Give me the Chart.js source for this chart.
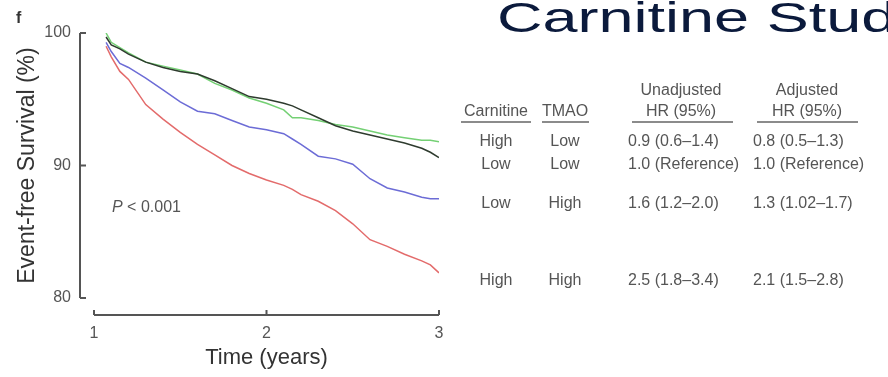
<!DOCTYPE html>
<html>
<head>
<meta charset="utf-8">
<script src="https://cdn.jsdelivr.net/npm/chart.js@4.4.1/dist/chart.umd.min.js"></script>
<style>
  html, body { margin: 0; padding: 0; background: #fff; }
  canvas { display: block; }
</style>
</head>
<body>
<canvas id="km" width="888" height="377"></canvas>
<script>
// follow-up time (years)
const times = [1.07, 1.1, 1.15, 1.2, 1.3, 1.4, 1.5, 1.6, 1.7, 1.8, 1.9, 2.0, 2.1, 2.15, 2.2, 2.3, 2.4, 2.5, 2.6, 2.7, 2.8, 2.9, 2.95, 3.0];
// event-free survival (%) per group
const highCarnLowTmao  = [100.0, 99.3, 98.9, 98.5, 97.8, 97.5, 97.2, 96.9, 96.2, 95.7, 95.1, 94.7, 94.2, 93.6, 93.6, 93.4, 93.1, 92.9, 92.6, 92.3, 92.1, 91.9, 91.9, 91.8];
const lowCarnLowTmao   = [99.7, 99.1, 98.8, 98.4, 97.8, 97.4, 97.1, 96.9, 96.4, 95.8, 95.2, 95.0, 94.7, 94.5, 94.2, 93.6, 93.0, 92.6, 92.3, 92.0, 91.7, 91.3, 91.0, 90.6];
const lowCarnHighTmao  = [99.3, 98.6, 97.7, 97.4, 96.6, 95.7, 94.8, 94.1, 93.9, 93.4, 92.9, 92.7, 92.4, 92.0, 91.6, 90.7, 90.5, 90.1, 89.0, 88.3, 88.0, 87.6, 87.5, 87.5];
const highCarnHighTmao = [99.0, 98.2, 97.1, 96.5, 94.6, 93.5, 92.5, 91.6, 90.8, 90.0, 89.4, 88.9, 88.5, 88.2, 87.8, 87.3, 86.6, 85.6, 84.4, 83.9, 83.3, 82.8, 82.5, 81.9];

const xTicks = [1, 2, 3];
const yTicks = [80, 90, 100];

// hazard ratio table
const carnitine = ['High', 'Low', 'Low', 'High'];
const tmao = ['Low', 'Low', 'High', 'High'];
const unadjusted = ['0.9 (0.6\u20131.4)', '1.0 (Reference)', '1.6 (1.2\u20132.0)', '2.5 (1.8\u20133.4)'];
const adjusted = ['0.8 (0.5\u20131.3)', '1.0 (Reference)', '1.3 (1.02\u20131.7)', '2.1 (1.5\u20132.8)'];

const FONT = "'Liberation Sans', Arial, sans-serif";

function pts(vals) {
    return times.map((t, i) => ({x: t, y: vals[i]}));
}

function line(vals, color) {
    return {
        data: pts(vals),
        borderColor: color,
        borderWidth: 1.5,
        pointRadius: 0,
        tension: 0,
        fill: false
    };
}

// axes drawn detached from the plot, like the original figure
const detachedAxes = {
    id: 'detachedAxes',
    afterDraw(chart) {
        const ctx = chart.ctx;
        const xs = chart.scales.x, ys = chart.scales.y;
        const ax = chart.chartArea.left - 14;
        const ay = chart.chartArea.bottom + 17;
        ctx.save();
        ctx.strokeStyle = '#555';
        ctx.lineWidth = 2;
        ctx.beginPath();
        ctx.moveTo(ax, ys.getPixelForValue(yTicks[yTicks.length - 1]));
        ctx.lineTo(ax, ys.getPixelForValue(yTicks[0]));
        yTicks.forEach(v => {
            const y = ys.getPixelForValue(v);
            ctx.moveTo(ax, y);
            ctx.lineTo(ax + 6, y);
        });
        ctx.moveTo(xs.getPixelForValue(xTicks[0]), ay);
        ctx.lineTo(xs.getPixelForValue(xTicks[xTicks.length - 1]), ay);
        xTicks.forEach(v => {
            const x = xs.getPixelForValue(v);
            ctx.moveTo(x, ay);
            ctx.lineTo(x, ay - 5);
        });
        ctx.stroke();
        ctx.restore();
    }
};

const annotations = {
    id: 'annotations',
    afterDraw(chart) {
        const ctx = chart.ctx;
        ctx.save();
        // slide title, stretched wide like the screenshot
        ctx.save();
        ctx.fillStyle = '#0b1a3c';
        ctx.font = '42px ' + FONT;
        ctx.textBaseline = 'alphabetic';
        ctx.textAlign = 'left';
        ctx.translate(497, 32);
        ctx.scale(1.5, 1);
        ctx.fillText('Carnitine Study', 0, 0);
        ctx.restore();

        // panel letter
        ctx.fillStyle = '#333';
        ctx.font = 'bold 16px ' + FONT;
        ctx.textBaseline = 'middle';
        ctx.textAlign = 'left';
        ctx.fillText('f', 16, 19);

        // p-value
        ctx.fillStyle = '#555';
        ctx.font = 'italic 16px ' + FONT;
        ctx.fillText('P', 112, 208);
        const pw = ctx.measureText('P').width;
        ctx.font = '16px ' + FONT;
        ctx.fillText(' < 0.001', 112 + pw, 208);

        // table headers
        ctx.fillStyle = '#555';
        ctx.font = '16px ' + FONT;
        ctx.textAlign = 'center';
        ctx.fillText('Carnitine', 496, 112);
        ctx.fillText('TMAO', 565, 112);
        ctx.fillText('Unadjusted', 681, 91);
        ctx.fillText('HR (95%)', 681, 112);
        ctx.fillText('Adjusted', 807, 91);
        ctx.fillText('HR (95%)', 807, 112);

        ctx.strokeStyle = '#666';
        ctx.lineWidth = 1.5;
        ctx.beginPath();
        [[461, 531], [542, 589], [632, 733], [757, 858]].forEach(([a, b]) => {
            ctx.moveTo(a, 122);
            ctx.lineTo(b, 122);
        });
        ctx.stroke();

        const rowY = [142, 165, 204, 281];
        rowY.forEach((y, i) => {
            ctx.textAlign = 'center';
            ctx.fillText(carnitine[i], 496, y);
            ctx.fillText(tmao[i], 565, y);
            ctx.textAlign = 'left';
            ctx.fillText(unadjusted[i], 628, y);
            ctx.fillText(adjusted[i], 753, y);
        });
        ctx.restore();
    }
};

const config = {
    type: 'line',
    data: {
        datasets: [
            line(lowCarnLowTmao, '#2e3b2e'),
            line(highCarnLowTmao, '#74d074'),
            line(lowCarnHighTmao, '#6c6cd6'),
            line(highCarnHighTmao, '#e36b6b')
        ]
    },
    options: {
        responsive: false,
        animation: false,
        devicePixelRatio: 1,
        layout: {
            padding: {left: 0, top: 33, right: 449, bottom: 0}
        },
        scales: {
            x: {
                type: 'linear',
                min: 1,
                max: 3,
                afterFit: s => { s.height = 79; },
                afterBuildTicks: s => { s.ticks = xTicks.map(v => ({value: v})); },
                grid: {display: false, drawTicks: false},
                border: {display: false},
                ticks: {
                    padding: 26,
                    color: '#555',
                    font: {family: FONT, size: 16}
                },
                title: {
                    display: true,
                    text: 'Time (years)',
                    color: '#333',
                    font: {family: FONT, size: 22},
                    padding: {top: 0, bottom: 6}
                }
            },
            y: {
                min: 80,
                max: 100,
                afterFit: s => { s.width = 94; },
                afterBuildTicks: s => { s.ticks = yTicks.map(v => ({value: v})); },
                grid: {display: false, drawTicks: false},
                border: {display: false},
                ticks: {
                    padding: 23,
                    color: '#555',
                    font: {family: FONT, size: 16}
                },
                title: {
                    display: true,
                    text: 'Event-free Survival (%)',
                    color: '#333',
                    font: {family: FONT, size: 23},
                    padding: {top: 14, bottom: 0}
                }
            }
        },
        plugins: {
            legend: {display: false},
            tooltip: {enabled: false}
        }
    },
    plugins: [detachedAxes, annotations]
};

new Chart(document.getElementById('km'), config);
</script>
</body>
</html>
